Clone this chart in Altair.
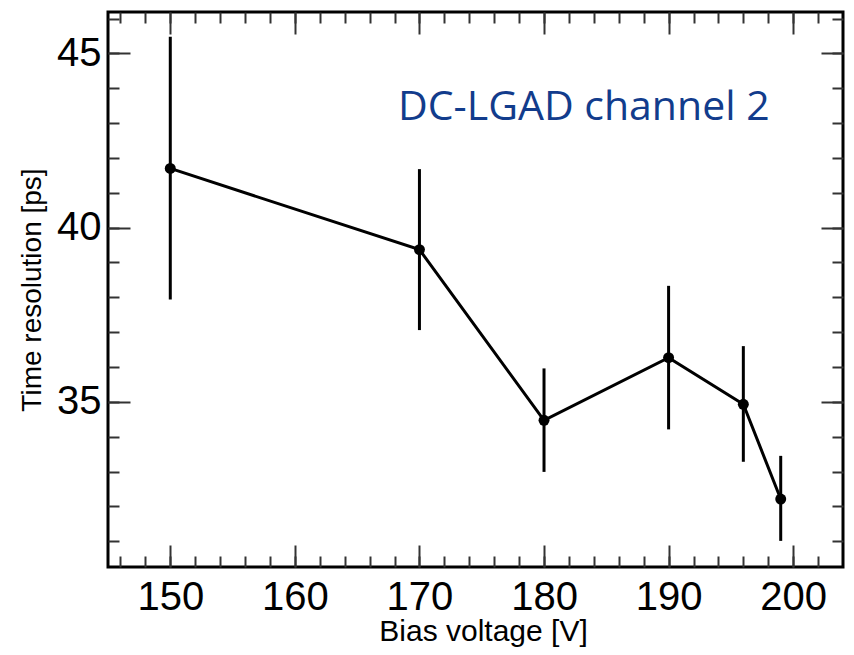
import altair as alt
import pandas as pd

# ---- data ----
bias = [150, 170, 180, 190, 196, 199]
resolution = [41.70, 39.37, 34.47, 36.27, 34.93, 32.21]
err_low = [37.94, 37.06, 32.99, 34.21, 33.28, 31.01]
err_high = [45.48, 41.68, 35.96, 38.33, 36.60, 33.45]

x_major = [150, 160, 170, 180, 190, 200]
x_minor = list(range(146, 204, 2))
y_major = [35, 40, 45]
y_minor = list(range(31, 47))
x_domain = [145, 204]
y_domain = [30.26, 46.19]

label_text = ["DC-LGAD channel 2"]

df = pd.DataFrame(dict(bias=bias, res=resolution, lo=err_low, hi=err_high))

W, H = 735, 555
FONT = "Liberation Sans"
TICK_COLOR = "#333333"

xs = alt.Scale(domain=x_domain, nice=False, zero=False)
ys = alt.Scale(domain=y_domain, nice=False, zero=False)


def tick_axis(orient, values, size):
    return alt.Axis(orient=orient, values=values, labels=False, domain=False,
                    ticks=True, tickSize=size, offset=-size, tickWidth=2,
                    tickColor=TICK_COLOR, grid=False, title=None)


x_lab = alt.Axis(orient="bottom", values=x_major, ticks=False, tickSize=0,
                 domain=False, grid=False, labelFont=FONT, labelFontSize=40,
                 labelColor="black", labelPadding=10, labelFlush=False,
                 title="Bias voltage [V]", titleFont=FONT, titleFontSize=30,
                 titleFontWeight="normal", titleColor="black",
                 titleX=375, titleY=73, titleBaseline="alphabetic")
y_lab = alt.Axis(orient="left", values=y_major, ticks=False, tickSize=0,
                 domain=False, grid=False, labelFont=FONT, labelFontSize=40,
                 labelColor="black", labelPadding=7,
                 title="Time resolution [ps]", titleFont=FONT, titleFontSize=28,
                 titleFontWeight="normal", titleColor="black",
                 titleX=-62, titleY=H / 2, titleBaseline="bottom")

base = alt.Chart(df)

errbars = base.mark_rule(color="black", strokeWidth=3).encode(
    x=alt.X("bias:Q", scale=xs, axis=x_lab),
    y=alt.Y("lo:Q", scale=ys, axis=y_lab),
    y2="hi:Q",
)

line = base.mark_line(color="black", strokeWidth=3).encode(
    x=alt.X("bias:Q", scale=xs, axis=tick_axis("bottom", x_major, 22)),
    y=alt.Y("res:Q", scale=ys, axis=tick_axis("left", y_major, 22)),
)

points = base.mark_circle(color="black", size=120, opacity=1).encode(
    x=alt.X("bias:Q", scale=xs, axis=tick_axis("bottom", x_minor, 11)),
    y=alt.Y("res:Q", scale=ys, axis=tick_axis("left", y_minor, 11)),
)

ghost1 = base.mark_point(opacity=0).encode(
    x=alt.X("bias:Q", scale=xs, axis=tick_axis("top", x_major, 22)),
    y=alt.Y("res:Q", scale=ys, axis=tick_axis("right", y_major, 22)),
)

ghost2 = base.mark_point(opacity=0).encode(
    x=alt.X("bias:Q", scale=xs, axis=tick_axis("top", x_minor, 11)),
    y=alt.Y("res:Q", scale=ys, axis=tick_axis("right", y_minor, 11)),
)

text = alt.Chart(pd.DataFrame({"t": label_text})).mark_text(
    font="Open Sans", fontSize=41, color="#123c8c", align="left",
    baseline="alphabetic"
).encode(x=alt.value(290), y=alt.value(108), text="t:N")

chart = alt.layer(errbars, line, points, ghost1, ghost2, text).resolve_axis(
    x="independent", y="independent"
).properties(
    width=W, height=H,
    autosize=alt.AutoSizeParams(type="none"),
    padding={"left": 100, "top": 4, "right": 3, "bottom": 80},
    background="white",
).configure_view(stroke="black", strokeWidth=3)

chart.save("out.html", embed_options={"renderer": "svg", "actions": False})
